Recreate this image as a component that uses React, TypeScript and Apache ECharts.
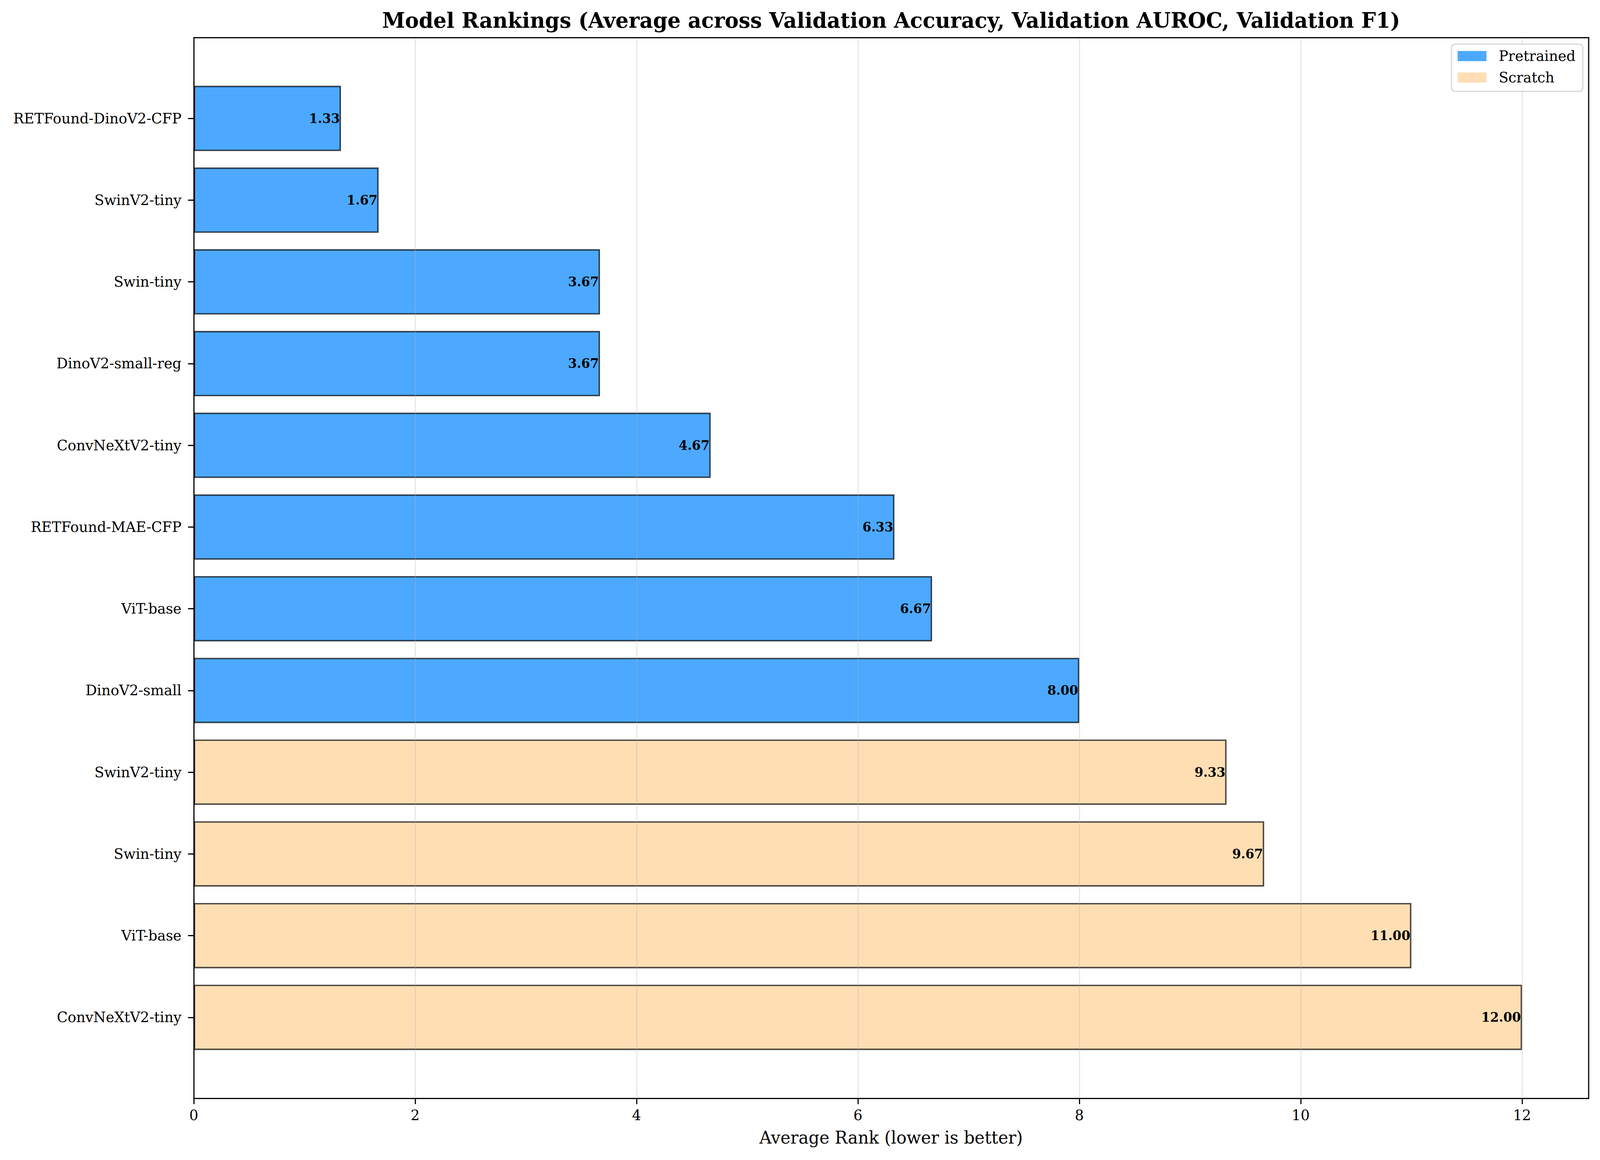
import React, { useEffect, useRef } from "react";
import * as echarts from "echarts";

// ---- data ----
const modelNames = [
  "RETFound-DinoV2-CFP",
  "SwinV2-tiny",
  "Swin-tiny",
  "DinoV2-small-reg",
  "ConvNeXtV2-tiny",
  "RETFound-MAE-CFP",
  "ViT-base",
  "DinoV2-small",
  "SwinV2-tiny",
  "Swin-tiny",
  "ViT-base",
  "ConvNeXtV2-tiny",
];
const avgRanks = [1.33, 1.67, 3.67, 3.67, 4.67, 6.33, 6.67, 8.0, 9.33, 9.67, 11.0, 12.0];
const modelGroups = [
  "Pretrained", "Pretrained", "Pretrained", "Pretrained",
  "Pretrained", "Pretrained", "Pretrained", "Pretrained",
  "Scratch", "Scratch", "Scratch", "Scratch",
];
const groupNames = ["Pretrained", "Scratch"];
const xTickValues = [0, 2, 4, 6, 8, 10, 12];
const titleText =
  "Model Rankings (Average across Validation Accuracy, Validation AUROC, Validation F1)";
const xAxisTitle = "Average Rank (lower is better)";

// ---- style / layout ----
const W = 4170;
const H = 2970;
const FONT = '"DejaVu Serif", serif';
const groupColors: Record<string, string> = { Pretrained: "#4CA9FF", Scratch: "#FFDEB4" };
const X_MAX = 12.6;
const FRAME = { left: 505, right: 30, top: 96, bottom: 158 };
const Y_SPAN = 12.98; // -0.99 .. 11.99 in category units
const BAND = (H - FRAME.top - FRAME.bottom) / Y_SPAN;
const INSET = (0.99 - 0.5) * BAND;
const SPINE = 3;

export default function App() {
  const ref = useRef<HTMLDivElement>(null);
  const vw = typeof window !== "undefined" ? window.innerWidth || W : W;
  const vh = typeof window !== "undefined" ? window.innerHeight || H : H;
  const sx = Math.min(1, vw / W);
  const sy = Math.min(1, vh / H);

  useEffect(() => {
    document.body.style.margin = "0";
    document.body.style.overflow = "hidden";
    const chart = echarts.init(ref.current!, null, { renderer: "svg", width: W, height: H });

    const spineAxis = (pos: string) => ({
      gridIndex: 0,
      type: "value",
      min: 0,
      max: pos === "top" || pos === "bottom" ? X_MAX : 1,
      position: pos,
      z: 5,
      axisLine: { show: true, onZero: false, lineStyle: { color: "#000", width: SPINE } },
      axisTick: { show: false },
      axisLabel: { show: false },
      splitLine: { show: false },
    });

    const seriesFor = (g: string) => ({
      name: g,
      type: "bar",
      xAxisIndex: 2,
      yAxisIndex: 2,
      stack: "rank",
      barWidth: "80%",
      data: avgRanks.map((v, i) => (modelGroups[i] === g ? v : "-")),
      itemStyle: {
        color: groupColors[g],
        borderColor: "rgba(0,0,0,0.7)",
        borderWidth: 3.7,
      },
      label: {
        show: true,
        position: "insideRight",
        distance: 3,
        formatter: (p: any) => Number(p.value).toFixed(2),
        fontSize: 33,
        fontWeight: "bold",
        fontFamily: FONT,
        color: "#000",
      },
    });

    chart.setOption({
      animation: false,
      backgroundColor: "#fff",
      grid: [
        { left: FRAME.left, right: FRAME.right, top: FRAME.top, bottom: FRAME.bottom },
        {
          left: FRAME.left,
          right: FRAME.right,
          top: FRAME.top + INSET,
          bottom: FRAME.bottom + INSET,
        },
      ],
      xAxis: [
        {
          gridIndex: 0,
          type: "value",
          min: 0,
          max: X_MAX,
          position: "bottom",
          z: 5,
          axisLine: { show: true, onZero: false, lineStyle: { color: "#000", width: SPINE } },
          axisTick: {
            show: true,
            length: 15,
            customValues: xTickValues,
            lineStyle: { color: "#000", width: SPINE },
          },
          axisLabel: {
            show: true,
            customValues: xTickValues,
            fontSize: 37,
            lineHeight: 37,
            fontFamily: FONT,
            color: "#000",
            margin: 25,
          },
          splitLine: {
            show: true,
            lineStyle: { color: "rgba(176,176,176,0.3)", width: 3 },
          },
        },
        spineAxis("top"),
        { gridIndex: 1, type: "value", min: 0, max: X_MAX, show: false },
      ],
      yAxis: [
        spineAxis("left"),
        spineAxis("right"),
        {
          gridIndex: 1,
          type: "category",
          inverse: true,
          data: modelNames.map((_, i) => String(i)),
          z: 5,
          axisLine: { show: false },
          axisTick: {
            show: true,
            alignWithLabel: true,
            length: 15,
            lineStyle: { color: "#000", width: SPINE },
          },
          axisLabel: {
            formatter: (v: string) => modelNames[Number(v)],
            fontSize: 37,
            fontFamily: FONT,
            color: "#000",
            margin: 32,
          },
          splitLine: { show: false },
        },
      ],
      legend: {
        data: groupNames,
        orient: "vertical",
        left: 3783,
        top: 113,
        padding: [12, 19, 17, 16],
        itemGap: 18,
        itemWidth: 75,
        itemHeight: 26,
        icon: "rect",
        itemStyle: { borderWidth: 0 },
        textStyle: {
          fontSize: 37,
          lineHeight: 37,
          fontFamily: FONT,
          color: "#000",
          padding: [0, 0, 0, 27],
        },
        borderColor: "#d6d6d6",
        borderWidth: 3,
        borderRadius: 9,
        backgroundColor: "rgba(255,255,255,0.8)",
        z: 10,
      },
      graphic: [
        {
          type: "text",
          x: (FRAME.left + W - FRAME.right) / 2,
          y: 52,
          style: {
            text: titleText,
            fill: "#000",
            font: `bold 54px ${FONT}`,
            textAlign: "center",
            textVerticalAlign: "middle",
            align: "center",
            verticalAlign: "middle",
          },
        },
        {
          type: "text",
          x: (FRAME.left + W - FRAME.right) / 2,
          y: 2913,
          style: {
            text: xAxisTitle,
            fill: "#000",
            font: `44px ${FONT}`,
            textAlign: "center",
            textVerticalAlign: "middle",
            align: "center",
            verticalAlign: "middle",
          },
        },
      ],
      series: groupNames.map(seriesFor),
    });

    return () => chart.dispose();
  }, []);

  return (
    <div style={{ width: Math.round(W * sx), height: Math.round(H * sy), overflow: "hidden" }}>
      <div
        ref={ref}
        style={{
          width: W,
          height: H,
          transform: `scale(${sx}, ${sy})`,
          transformOrigin: "0 0",
        }}
      />
    </div>
  );
}
